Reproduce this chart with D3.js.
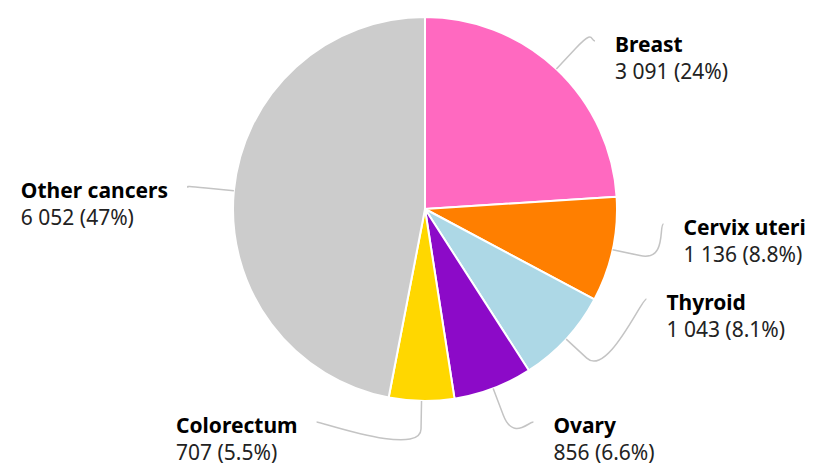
<!DOCTYPE html>
<html>
<head>
<meta charset="utf-8">
<script src="https://cdn.jsdelivr.net/npm/d3@7"></script>
<style>
  html, body { margin: 0; padding: 0; background: #fff; }
  svg { display: block; font-family: "Noto Sans", "Open Sans", sans-serif; }
</style>
</head>
<body>
<svg id="chart" width="814" height="466"></svg>
<script>
// Cancer cases by site (women)
const sites = ["Breast", "Cervix uteri", "Thyroid", "Ovary", "Colorectum", "Other cancers"];
const cases = [3091, 1136, 1043, 856, 707, 6052];
const shares = ["24%", "8.8%", "8.1%", "6.6%", "5.5%", "47%"];
const colors = ["#ff69c0", "#ff7f00", "#add8e6", "#8c0ac8", "#ffd700", "#cccccc"];

// Vertical position of each label's connector end (layout)
const labelY = [41, 224, 299, 422, 422, 187];

const W = 814, H = 466;
const cx = 425, cy = 209, r = 192;
const labelRadius = 239;   // circle on which connector ends sit
const breakRadius = 220;   // where the connector leaves the radial direction

const svg = d3.select("#chart");
const g = svg.append("g").attr("transform", `translate(${cx},${cy})`);

const data = sites.map((s, i) => ({ site: s, value: cases[i], share: shares[i], color: colors[i], ly: labelY[i] }));

const pie = d3.pie().value(d => d.value).sort(null);
const arc = d3.arc().innerRadius(0).outerRadius(r);
const arcs = pie(data);

g.selectAll("path.slice")
  .data(arcs)
  .join("path")
  .attr("class", "slice")
  .attr("d", arc)
  .attr("fill", d => d.data.color)
  .attr("stroke", "#fff")
  .attr("stroke-width", 2)
  .attr("stroke-linejoin", "round");

// thousands separated by a space
const fmt = v => d3.format(",")(v).replace(/,/g, " ");

function polar(radius, angle) {
  return [radius * Math.sin(angle), -radius * Math.cos(angle)];
}

const lines = svg.append("g");
const labels = svg.append("g");

arcs.forEach(a => {
  const mid = (a.startAngle + a.endAngle) / 2;
  const right = Math.sin(mid) >= 0;
  const [tx, ty] = polar(r, mid);
  const [bx, by] = polar(breakRadius, mid);
  const ey = a.data.ly - cy;
  const ex = (right ? 1 : -1) * Math.sqrt(Math.max(0, labelRadius * labelRadius - ey * ey));

  const P0 = [cx + tx, cy + ty];
  const B = [cx + bx, cy + by];
  const E = [cx + ex, cy + ey];
  const c1 = [E[0] + (right ? -5 : 5), E[1]];
  const c2 = [2 * B[0] - P0[0], 2 * B[1] - P0[1]];

  const p = d3.path();
  p.moveTo(E[0], E[1]);
  p.bezierCurveTo(c1[0], c1[1], c2[0], c2[1], B[0], B[1]);
  p.lineTo(P0[0], P0[1]);

  lines.append("path")
    .attr("d", p.toString())
    .attr("fill", "none")
    .attr("stroke", "#c4c4c4")
    .attr("stroke-width", 1.5);

  const t = labels.append("text")
    .attr("y", E[1] + 11)
    .attr("font-size", 21);
  t.append("tspan")
    .attr("x", 0)
    .attr("font-weight", 700)
    .attr("fill", "#000")
    .text(a.data.site);
  t.append("tspan")
    .attr("x", 0)
    .attr("dy", 27)
    .attr("fill", "#222")
    .text(`${fmt(a.data.value)} (${a.data.share})`);

  // left-aligned text block, placed after (right side) or before (left side) the connector end
  const w = t.node().getBBox().width;
  const x0 = right ? E[0] + 20 : E[0] - 19 - w;
  t.selectAll("tspan").attr("x", x0);
});
</script>
</body>
</html>
